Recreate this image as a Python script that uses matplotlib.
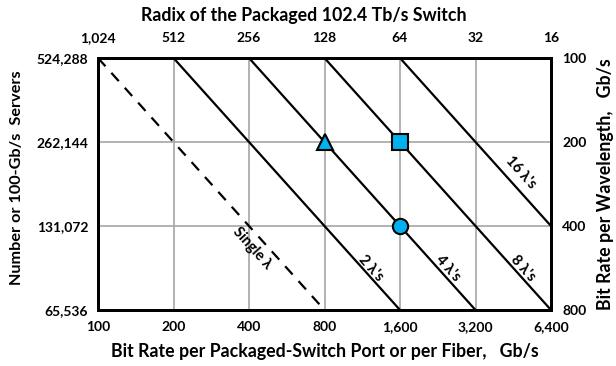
import numpy as np
import matplotlib
matplotlib.use("Agg")
import matplotlib.pyplot as plt

plt.rcParams['font.family'] = ['Lato', 'DejaVu Sans']

# Data
port_rates = [100, 200, 400, 800, 1600, 3200, 6400]          # bottom axis, Gb/s
port_labels = ['100', '200', '400', '800', '1,600', '3,200', '6,400']
radix_labels = ['1,024', '512', '256', '128', '64', '32', '16']  # top axis
servers = [65536, 131072, 262144, 524288]                     # left axis
server_labels = ['65,536', '131,072', '262,144', '524,288']
wl_labels = ['800', '400', '200', '100']                      # right axis, Gb/s

# iso-wavelength lines
line_names = ['Single λ', "2 λ's", "4 λ's", "8 λ's", "16 λ's"]
line_x = [[100, 800], [200, 1600], [400, 3200], [800, 6400], [1600, 6400]]
line_y = [[524288, 65536], [524288, 65536], [524288, 65536], [524288, 65536], [524288, 131072]]
label_pos = [(411, 109000), (1226, 92682), (2486, 92682), (4947, 92682), (4850, 204000)]

# markers
tri_pt = (800, 262144)
sq_pt = (1600, 262144)
circ_pt = (1600, 131072)

W, H = 616, 366
fig = plt.figure(figsize=(W/100, H/100), dpi=100)
ax = fig.add_axes([98/W, 1-310/H, (551-98)/W, (310-58)/H])
ax.set_xscale('log', base=2)
ax.set_yscale('log', base=2)
ax.set_xlim(100, 6400)
ax.set_ylim(65536, 524288)

grid_c = '#a6a6a6'
for x in port_rates[1:-1]:
    ax.axvline(x, color=grid_c, lw=1.2, zorder=1)
for y in servers[1:-1]:
    ax.axhline(y, color=grid_c, lw=1.2, zorder=1)

for i, (xs, ys) in enumerate(zip(line_x, line_y)):
    ls = (0, (5, 4)) if i == 0 else '-'
    ax.plot(xs, ys, color='black', lw=1.6, ls=ls, zorder=3, solid_capstyle='butt')

fig.canvas.draw()
p1 = ax.transData.transform((100, 524288))
p2 = ax.transData.transform((800, 65536))
ang = np.degrees(np.arctan2(p2[1]-p1[1], p2[0]-p1[0]))
for name, (lx, ly) in zip(line_names, label_pos):
    ax.text(lx, ly, name, rotation=ang, rotation_mode='anchor', ha='center', va='center',
            fontsize=10.5, fontweight='bold', zorder=4)

mc = '#00B0F0'
ax.plot(*tri_pt, marker='^', ms=12, mfc=mc, mec='black', mew=1.5, zorder=5, ls='none')
ax.plot(*sq_pt, marker='s', ms=11, mfc=mc, mec='black', mew=1.5, zorder=5, ls='none')
ax.plot(*circ_pt, marker='o', ms=11, mfc=mc, mec='black', mew=1.5, zorder=5, ls='none')

for s in ax.spines.values():
    s.set_linewidth(2)
    s.set_color('black')

ax.set_xticks(port_rates)
ax.set_xticklabels(port_labels)
ax.set_yticks(servers)
ax.set_yticklabels(server_labels)
ax.minorticks_off()
ax.tick_params(axis='x', length=0, labelsize=10, pad=8)
ax.tick_params(axis='y', length=0, labelsize=10, pad=7)
for t in ax.get_xticklabels() + ax.get_yticklabels():
    t.set_fontweight('bold')

axt = ax.twiny()
axt.set_xscale('log', base=2)
axt.set_xlim(ax.get_xlim())
axt.set_xticks(port_rates)
axt.set_xticklabels(radix_labels)
axt.minorticks_off()
axt.tick_params(length=0, labelsize=10, pad=10)
for t in axt.get_xticklabels():
    t.set_fontweight('bold')

axr = ax.twinx()
axr.set_yscale('log', base=2)
axr.set_ylim(ax.get_ylim())
axr.set_yticks(servers)
axr.set_yticklabels(wl_labels)
axr.minorticks_off()
axr.tick_params(length=0, labelsize=10, pad=8)
for t in axr.get_yticklabels():
    t.set_fontweight('bold')

for a in (axt, axr):
    for s in a.spines.values():
        s.set_linewidth(2)

lab_kw = dict(fontweight='bold', ha='center', va='center')
fig.text(304/W, 1-16/H, 'Radix of the Packaged 102.4 Tb/s Switch', fontsize=12.8, **lab_kw)
fig.text(325/W, 1-351/H, 'Bit Rate per Packaged-Switch Port or per Fiber,   Gb/s',
         fontsize=12.8, **lab_kw)
fig.text(17/W, 1-178/H, 'Number or 100-Gb/s  Servers', rotation=90, fontsize=11.7, **lab_kw)
fig.text(605/W, 1-184/H, 'Bit Rate per Wavelength,   Gb/s', rotation=90, fontsize=12.8,
         **lab_kw)

fig.savefig('out.png', dpi=100)
